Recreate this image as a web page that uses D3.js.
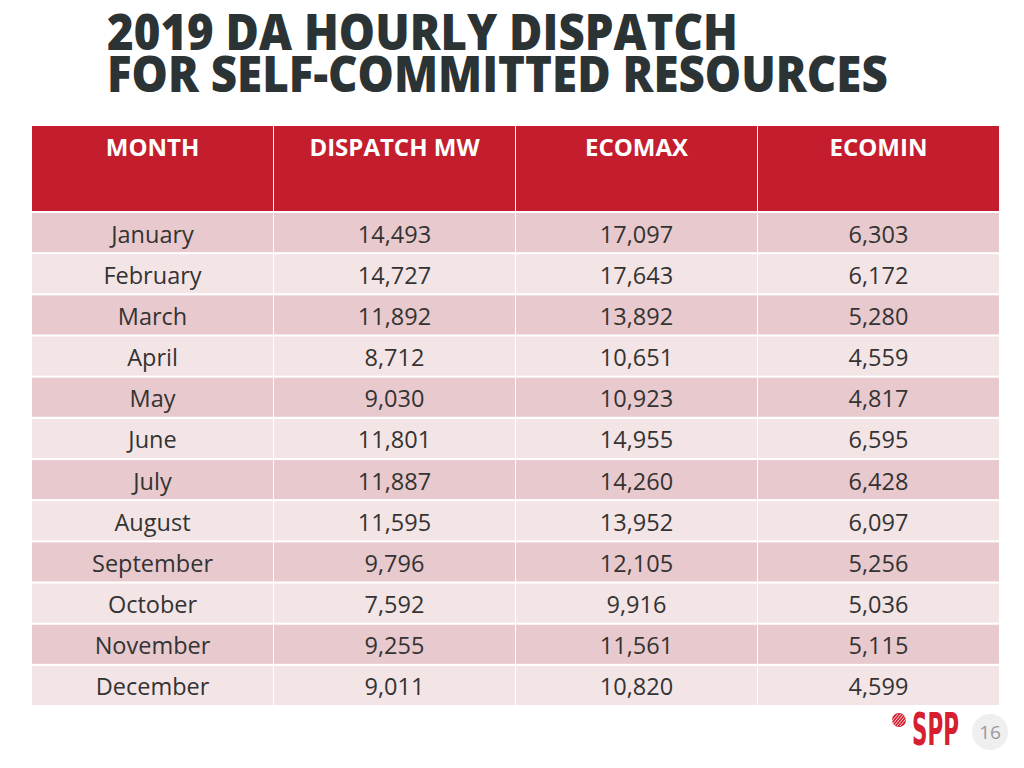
<!DOCTYPE html>
<html><head><meta charset="utf-8">
<script src="https://cdn.jsdelivr.net/npm/d3@7"></script>
<style>body{margin:0;background:#fff}svg{display:block}</style>
</head><body>
<script>
const titleLines = ["2019 DA HOURLY DISPATCH", "FOR SELF-COMMITTED RESOURCES"];
const columns = ["MONTH", "DISPATCH MW", "ECOMAX", "ECOMIN"];
const months = ["January","February","March","April","May","June","July","August","September","October","November","December"];
const dispatchMW = [14493,14727,11892,8712,9030,11801,11887,11595,9796,7592,9255,9011];
const ecomax = [17097,17643,13892,10651,10923,14955,14260,13952,12105,9916,11561,10820];
const ecomin = [6303,6172,5280,4559,4817,6595,6428,6097,5256,5036,5115,4599];
const pageNumber = "16";

const W = 1024, H = 768;
const svg = d3.select("body").append("svg").attr("width", W).attr("height", H);

// Title
const titleWidths = [631, 781];
titleLines.forEach((t, i) => {
  const el = svg.append("text").attr("x", 107).attr("y", 50 + i * 42)
    .attr("font-family", "Open Sans").attr("font-weight", 800).attr("font-size", 50)
    .attr("fill", "#2b3335").text(t);
  const w = el.node().getComputedTextLength();
  el.attr("transform", `translate(107,0) scale(${titleWidths[i] / w},1) translate(-107,0)`);
});

const fmt = d3.format(",");
const rows = months.map((m, i) => [m, fmt(dispatchMW[i]), fmt(ecomax[i]), fmt(ecomin[i])]);

const x = d3.scaleBand().domain(d3.range(columns.length)).range([32, 999]).paddingInner(0.004);
const y = d3.scaleBand().domain(d3.range(rows.length)).range([213, 705]).paddingInner(0.05);

// Header
const header = svg.append("g");
header.selectAll("rect").data(columns).join("rect")
  .attr("x", (d, i) => x(i)).attr("y", 126).attr("width", x.bandwidth()).attr("height", 85)
  .attr("fill", "#c41e2e");
header.selectAll("text").data(columns).join("text")
  .attr("x", (d, i) => x(i) + x.bandwidth() / 2).attr("y", 156)
  .attr("text-anchor", "middle").attr("font-family", "Open Sans").attr("font-weight", 700)
  .attr("font-size", 24).attr("fill", "#fff").text(d => d);

// Body
const body = svg.append("g");
const rowG = body.selectAll("g").data(rows).join("g");
rowG.selectAll("rect").data((r, ri) => r.map((v, ci) => ({v, ci, ri}))).join("rect")
  .attr("x", d => x(d.ci)).attr("y", d => y(d.ri)).attr("width", x.bandwidth()).attr("height", y.bandwidth())
  .attr("fill", d => d.ri % 2 === 0 ? "#e8c9cd" : "#f3e4e6");
rowG.selectAll("text").data((r, ri) => r.map((v, ci) => ({v, ci, ri}))).join("text")
  .attr("x", d => x(d.ci) + x.bandwidth() / 2).attr("y", d => y(d.ri) + y.bandwidth() / 2 + 10)
  .attr("text-anchor", "middle").attr("font-family", "Open Sans").attr("font-size", 23.5)
  .attr("fill", "#333").text(d => d.v);

// Logo
const logo = svg.append("g");
logo.append("circle").attr("cx", 899).attr("cy", 720).attr("r", 7).attr("fill", "#d6202f");
for (let k = -2; k <= 2; k++) {
  logo.append("line").attr("x1", 894 + k * 3).attr("y1", 726).attr("x2", 904 + k * 3).attr("y2", 714)
    .attr("stroke", "#fff").attr("stroke-width", 0.8);
}
const spp = logo.append("text").attr("x", 912).attr("y", 745)
  .attr("font-family", "Liberation Sans Narrow, DejaVu Sans Condensed, sans-serif").attr("font-weight", 700)
  .attr("font-size", 44).attr("fill", "#d6202f").text("SPP");
const sw = spp.node().getComputedTextLength();
spp.attr("transform", `translate(912,0) scale(${47 / sw},1) translate(-912,0)`);

// Page number
svg.append("circle").attr("cx", 990).attr("cy", 732).attr("r", 18).attr("fill", "#efefef");
svg.append("text").attr("x", 990).attr("y", 739).attr("text-anchor", "middle")
  .attr("font-family", "Open Sans").attr("font-size", 19).attr("fill", "#999").text(pageNumber);
</script>
</body></html>
